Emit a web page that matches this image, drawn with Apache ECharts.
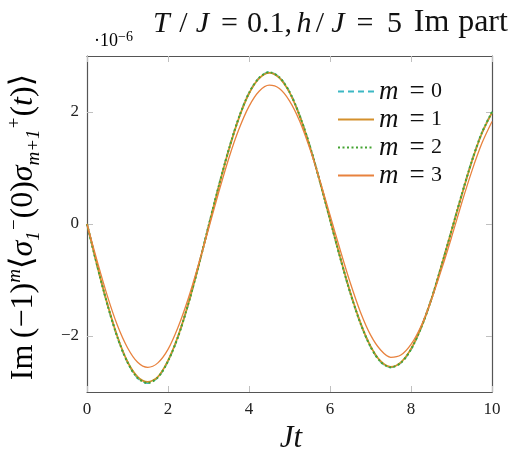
<!DOCTYPE html>
<html>
<head>
<meta charset="utf-8">
<script src="https://cdn.jsdelivr.net/npm/echarts@6/dist/echarts.min.js"></script>
<style>html,body{margin:0;padding:0;background:#fff;}#c{width:517px;height:456px;}</style>
</head>
<body>
<div id="c"></div>
<script>
// time axis Jt
var t = [0,0.25,0.5,0.75,1,1.25,1.5,1.75,2,2.25,2.5,2.75,3,3.25,3.5,3.75,4,4.25,4.5,4.75,5,5.25,5.5,5.75,6,6.25,6.5,6.75,7,7.25,7.5,7.75,8,8.25,8.5,8.75,9,9.25,9.5,9.75,10];
// values in units of 1e-6
var m0 = [0,-0.74,-1.43,-2.02,-2.47,-2.75,-2.84,-2.74,-2.45,-2.01,-1.43,-0.76,-0.04,0.67,1.33,1.90,2.34,2.61,2.71,2.62,2.36,1.94,1.40,0.76,0.08,-0.60,-1.23,-1.77,-2.19,-2.46,-2.56,-2.48,-2.24,-1.85,-1.35,-0.75,-0.12,0.52,1.12,1.63,2.00];
var m1 = [0,-0.74,-1.42,-2.01,-2.46,-2.73,-2.82,-2.73,-2.44,-2.00,-1.43,-0.76,-0.05,0.66,1.32,1.89,2.33,2.60,2.70,2.61,2.35,1.93,1.39,0.76,0.08,-0.59,-1.22,-1.76,-2.18,-2.45,-2.55,-2.47,-2.23,-1.85,-1.35,-0.75,-0.12,0.51,1.11,1.62,1.99];
var m2 = [0,-0.74,-1.43,-2.02,-2.47,-2.75,-2.84,-2.74,-2.45,-2.01,-1.43,-0.76,-0.04,0.67,1.33,1.90,2.34,2.61,2.71,2.62,2.36,1.94,1.40,0.76,0.08,-0.60,-1.23,-1.77,-2.19,-2.46,-2.56,-2.48,-2.24,-1.85,-1.35,-0.75,-0.12,0.52,1.12,1.63,2.00];
var m3 = [0,-0.66,-1.28,-1.81,-2.21,-2.47,-2.56,-2.48,-2.24,-1.84,-1.33,-0.73,-0.09,0.56,1.17,1.69,2.10,2.37,2.48,2.42,2.20,1.84,1.35,0.78,0.16,-0.46,-1.05,-1.57,-1.98,-2.25,-2.38,-2.34,-2.15,-1.82,-1.36,-0.82,-0.24,0.37,0.94,1.44,1.83];
var xTicks = [0,2,4,6,8,10];
var yTicks = [-2,0,2];
var names = ['m0','m1','m2','m3'];

function pairs(a){ return t.map(function(x,i){ return [x,a[i]]; }); }
var serif = "'Liberation Serif','DejaVu Serif',serif";
var chart = echarts.init(document.getElementById('c'), null, {renderer:'canvas'});
var tickStyle = {show:true, inside:true, length:6, lineStyle:{color:'#c0c0c0', width:1}};
var axLine = {show:true, onZero:false, lineStyle:{color:'#555', width:1.2}};
var labelStyle = {fontFamily:serif, fontSize:17, color:'#222'};
function tk(w, italic, al, fs){ return {fontFamily:serif, fontSize:fs||30, fontWeight:'normal', color:'#111', width:w, align:al||'left', fontStyle:italic?'italic':'normal', lineHeight:34, verticalAlign:'bottom'}; }
chart.setOption({
  animation:false,
  grid:{left:87, right:25, top:56, bottom:64},
  title:{
    text:'{T|T}{s|/}{J|J}{e|=}{n|0.1,}{h|h}{s2|/}{J2|J}{e2|=}{f|5}{im|Im}{p|part}',
    left:148, top:0,
    textStyle:{fontWeight:'normal', rich:{
      T:tk(24,true), s:tk(13,false,'center'), J:tk(25,true), e:tk(29,false,'center'),
      n:tk(51,false), h:tk(18,true), s2:tk(14,false,'center'), J2:tk(22,true), e2:tk(32,false,'center'),
      f:tk(27,false), im:tk(47,false,'left',32), p:tk(56,false,'left',32)
    }}
  },
  legend:{
    orient:'vertical', left:332, top:73, itemWidth:36, itemHeight:14, itemGap:1,
    data:names,
    itemStyle:{opacity:0},
    formatter:function(n){ return '{i|m}{e|=}{r|'+n.slice(1)+'}'; },
    textStyle:{lineHeight:20, rich:{
      i:{fontFamily:serif, fontStyle:'italic', fontSize:27, color:'#111', width:24, lineHeight:20},
      e:{fontFamily:serif, fontSize:27, color:'#111', width:28, align:'center', lineHeight:20},
      r:{fontFamily:serif, fontSize:22, color:'#111', lineHeight:20}
    }}
  },
  xAxis:[{
    type:'value', min:0, max:10, interval:2, position:'bottom',
    axisLine:axLine, axisTick:tickStyle, splitLine:{show:false},
    axisLabel:Object.assign({margin:9}, labelStyle)
  },{
    type:'value', min:0, max:10, interval:2, position:'top',
    axisLine:axLine, axisTick:tickStyle, splitLine:{show:false}, axisLabel:{show:false}
  }],
  yAxis:[{
    type:'value', min:-3, max:3, position:'left',
    axisLine:axLine, axisTick:Object.assign({customValues:yTicks}, tickStyle), splitLine:{show:false},
    axisLabel:Object.assign({margin:8, customValues:yTicks, formatter:function(v){return v<0?'\u2212'+(-v):String(v);}}, labelStyle)
  },{
    type:'value', min:-3, max:3, position:'right',
    axisLine:axLine, axisTick:Object.assign({customValues:yTicks}, tickStyle), splitLine:{show:false}, axisLabel:{show:false}
  }],
  series:[
    {name:'m0', type:'line', data:pairs(m0), smooth:0.3, showSymbol:false, symbol:'none', lineStyle:{color:'#3cb8c4', width:1.8, type:[6,4]}, itemStyle:{color:'#3cb8c4'}},
    {name:'m1', type:'line', data:pairs(m1), smooth:0.3, showSymbol:false, symbol:'none', lineStyle:{color:'#d4902c', width:1.8}, itemStyle:{color:'#d4902c'}},
    {name:'m2', type:'line', data:pairs(m2), smooth:0.3, showSymbol:false, symbol:'none', lineStyle:{color:'#44a332', width:2, type:[2,2.5]}, itemStyle:{color:'#44a332'}},
    {name:'m3', type:'line', data:pairs(m3), smooth:0.3, showSymbol:false, symbol:'none', lineStyle:{color:'#e8823e', width:1.3}, itemStyle:{color:'#e8823e'}}
  ],
  graphic:[
    {type:'text', left:94, top:30, style:{
      text:'{r|\u00b710}{s|\u22126}',
      rich:{r:{fontFamily:serif, fontSize:18, color:'#222', verticalAlign:'bottom', lineHeight:20}, s:{fontFamily:serif, fontSize:14, color:'#222', verticalAlign:'top', lineHeight:12}}
    }},
    {type:'text', x:291, y:439, style:{
      text:'Jt', fontFamily:serif, fontStyle:'italic', fontSize:31, fill:'#111', align:'center', verticalAlign:'middle'
    }},
    {type:'text', x:24, y:227, rotation:Math.PI/2, style:{
      text:'{r|Im\u2009(\u22121)}{sp|m}{r|\u27e8}{i|\u03c3}{sb|1}{sp|\u2212}{r|(0)}{i|\u03c3}{sb|m+1}{sp|+}{r|(}{i|t}{r|)\u27e9}',
      align:'center', verticalAlign:'middle',
      rich:{
        r:{fontFamily:serif, fontSize:32, color:'#111', lineHeight:38},
        i:{fontFamily:serif, fontStyle:'italic', fontSize:32, color:'#111', lineHeight:38},
        sp:{fontFamily:serif, fontStyle:'italic', fontSize:19, color:'#111', verticalAlign:'top', lineHeight:19},
        sb:{fontFamily:serif, fontStyle:'italic', fontSize:19, color:'#111', verticalAlign:'bottom', lineHeight:19}
      }
    }}
  ]
});
</script>
</body>
</html>
